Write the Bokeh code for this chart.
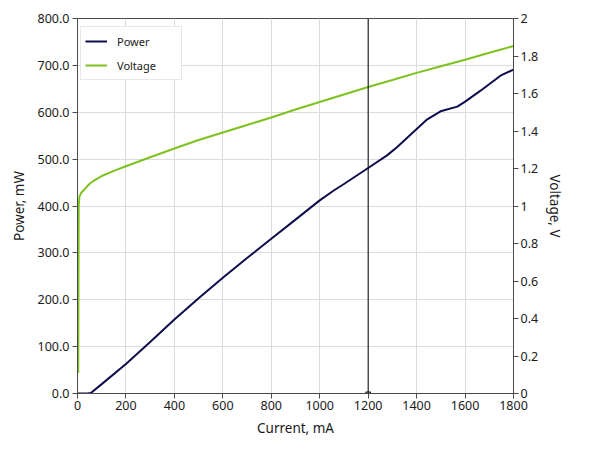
from bokeh.plotting import figure
from bokeh.models import (Range1d, LinearAxis, SingleIntervalTicker, NumeralTickFormatter,
                          Span, Legend, LegendItem)
from bokeh.embed import file_html
from bokeh.resources import INLINE

# ---- data ----
current_p = [0, 20, 40, 55, 100, 200, 300, 400, 500, 600, 700, 800, 900, 1000, 1058, 1100,
             1200, 1278, 1320, 1398, 1444, 1499, 1568, 1599, 1664, 1746, 1800]
power_mw = [0, 0, 0, 1, 20, 63, 110, 158, 203, 247, 289, 330, 371, 412, 433, 447,
            481, 508, 526, 563, 585, 602, 612, 622, 646, 678, 691]

current_v = [3, 4, 5, 8, 15, 26, 40, 55, 80, 100, 150, 200, 300, 400, 500, 600, 700, 800,
             900, 1000, 1100, 1200, 1300, 1400, 1500, 1600, 1700, 1800]
voltage_v = [0.11, 0.6, 1.00, 1.05, 1.07, 1.085, 1.105, 1.124, 1.145, 1.16, 1.187, 1.212,
             1.26, 1.307, 1.352, 1.392, 1.432, 1.472, 1.515, 1.555, 1.595, 1.635, 1.672, 1.71,
             1.745, 1.78, 1.817, 1.853]

cursor_x = [1200]
cursor_y = [0]

x_label = "Current, mA"
y_label = "Power, mW"
y2_label = "Voltage, V"

FONT = "Noto Sans"
AX = "#4a4a4a"
TXT = "#1a1a1a"
POWER_C = "#0d0d4d"
VOLT_C = "#7dc21e"

p = figure(width=573, height=440, output_backend="svg", toolbar_location=None,
           x_range=Range1d(0, 1800), y_range=Range1d(0, 800),
           min_border_left=77, min_border_right=60, min_border_top=18, min_border_bottom=47)
p.extra_y_ranges = {"v": Range1d(0, 2)}

p.outline_line_color = AX
p.outline_line_width = 1
p.background_fill_color = "white"
p.border_fill_color = "white"

p.xaxis.ticker = SingleIntervalTicker(interval=200)
p.yaxis.ticker = SingleIntervalTicker(interval=100)
p.yaxis.formatter = NumeralTickFormatter(format="0.0")
p.xaxis.axis_label = x_label
p.yaxis.axis_label = y_label

y2 = LinearAxis(y_range_name="v", axis_label=y2_label,
                ticker=SingleIntervalTicker(interval=0.2),
                formatter=NumeralTickFormatter(format="0.[0]"))
p.add_layout(y2, "right")

for ax in [p.xaxis[0], p.yaxis[0], y2]:
    ax.axis_line_color = AX
    ax.major_tick_line_color = AX
    ax.major_tick_out = 5
    ax.major_tick_in = 0
    ax.minor_tick_line_color = None
    ax.major_label_text_font = FONT
    ax.major_label_text_font_size = "12.5px"
    ax.major_label_text_color = TXT
    ax.axis_label_text_font = FONT
    ax.axis_label_text_font_size = "13.5px"
    ax.axis_label_text_font_style = "normal"
    ax.axis_label_text_color = TXT
    ax.major_label_standoff = 3

p.xaxis.axis_label_standoff = 6
p.xaxis.major_label_standoff = 2
p.yaxis.axis_label_standoff = 7
y2.axis_label_standoff = 5
y2.major_label_standoff = 2

p.xgrid.grid_line_color = "#dcdcdc"
p.ygrid.grid_line_color = "#dcdcdc"
p.xgrid.ticker = p.xaxis[0].ticker
p.ygrid.ticker = p.yaxis[0].ticker

r_p = p.line(current_p, power_mw, line_color=POWER_C, line_width=2)
r_v = p.line(current_v, voltage_v, line_color=VOLT_C, line_width=2, y_range_name="v")

p.add_layout(Span(location=cursor_x[0], dimension="height", line_color="black", line_width=1))
p.scatter(cursor_x, cursor_y, marker="inverted_triangle", size=5, fill_color=None,
          line_color="black", line_width=1)

legend = Legend(items=[LegendItem(label="Power", renderers=[r_p]),
                       LegendItem(label="Voltage", renderers=[r_v])],
                location=(3, 313))
legend.label_text_font = FONT
legend.label_text_font_size = "11px"
legend.label_text_color = TXT
legend.border_line_color = "#cfcfcf"
legend.background_fill_color = "white"
legend.background_fill_alpha = 1
legend.margin = 0
legend.padding = 4
legend.spacing = 4
legend.glyph_width = 22
legend.label_standoff = 10
legend.label_width = 60
p.add_layout(legend)

open("out.html", "w").write(file_html(p, INLINE))
